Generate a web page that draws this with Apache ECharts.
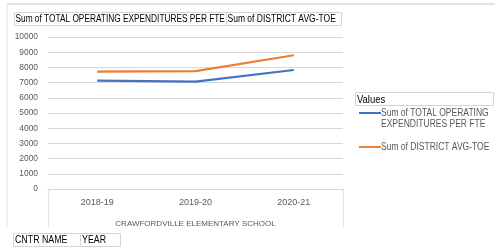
<!DOCTYPE html>
<html>
<head>
<meta charset="utf-8">
<script src="https://cdn.jsdelivr.net/npm/echarts@6/dist/echarts.min.js"></script>
<style>
  html, body { margin: 0; padding: 0; background: #fff; }
  #main { width: 497px; height: 252px; }
</style>
</head>
<body>
<div id="main"></div>
<script>
// data
const years = ['2018-19', '2019-20', '2020-21'];
const totalOpExp = [7130, 7070, 7830];
const districtAvg = [7720, 7760, 8800];
const seriesNames = ['Sum of TOTAL OPERATING EXPENDITURES PER FTE', 'Sum of DISTRICT AVG-TOE'];
const legendLines = [['Sum of TOTAL OPERATING', 'EXPENDITURES PER FTE'], ['Sum of DISTRICT AVG-TOE']];
const colors = ['#4472C4', '#ED7D31'];
const fieldButtons = ['CNTR NAME', 'YEAR'];

const font = 'Liberation Sans';
const border = '#d4d4d4';

// 窄字体（模仿 Calibri）
function label(text, x, y, size, sx, fill) {
  return {
    type: 'text', x: x, y: y, scaleX: sx,
    style: { text: text, font: size + 'px ' + font, fill: fill || '#000', verticalAlign: 'middle' },
  };
}

// 边框和按钮
const graphic = [
  { type: 'line', shape: { x1: 7, y1: 4, x2: 495, y2: 4 }, style: { stroke: '#e3e3e3', lineWidth: 2 } },
  { type: 'line', shape: { x1: 7, y1: 4, x2: 7, y2: 228 }, style: { stroke: '#e3e3e3', lineWidth: 1 } },
  // 顶部字段
  { type: 'rect', shape: { x: 14.5, y: 12.5, width: 212, height: 13 }, style: { fill: '#fff', stroke: border } },
  { type: 'rect', shape: { x: 226.5, y: 12.5, width: 115, height: 13 }, style: { fill: '#fff', stroke: border } },
  label(seriesNames[0], 15.5, 19.5, 10, 0.83),
  label(seriesNames[1], 227.5, 19.5, 10, 0.85),
  // x轴框
  { type: 'line', shape: { x1: 48.5, y1: 189, x2: 48.5, y2: 227 }, style: { stroke: '#e3e3e3', lineWidth: 1 } },
  { type: 'line', shape: { x1: 343.5, y1: 189, x2: 343.5, y2: 227 }, style: { stroke: '#e3e3e3', lineWidth: 1 } },
  // 底部字段
  { type: 'rect', shape: { x: 13.5, y: 233.5, width: 67, height: 13 }, style: { fill: '#fff', stroke: border } },
  { type: 'rect', shape: { x: 80.5, y: 233.5, width: 40, height: 13 }, style: { fill: '#fff', stroke: border } },
  label(fieldButtons[0], 15, 240.5, 10.5, 0.84),
  label(fieldButtons[1], 82, 240.5, 10.5, 0.84),
  // 图例
  { type: 'rect', shape: { x: 355.5, y: 92.5, width: 138, height: 13 }, style: { fill: '#fff', stroke: border } },
  label('Values', 357, 99.5, 11, 0.86),
];

const legendY = [113, 147];
legendLines.forEach((lines, i) => {
  graphic.push({ type: 'line', shape: { x1: 359, y1: legendY[i], x2: 381, y2: legendY[i] }, style: { stroke: colors[i], lineWidth: 2 } });
  lines.forEach((t, j) => {
    graphic.push(label(t, 381, legendY[i] + j * 11, 10, 0.85, '#595959'));
  });
});

const option = {
  animation: false,
  grid: { left: 48, right: 154, top: 37, bottom: 63 },
  xAxis: {
    type: 'category',
    data: years,
    boundaryGap: true,
    name: 'CRAWFORDVILLE ELEMENTARY SCHOOL',
    nameLocation: 'center',
    nameGap: 31,
    nameTextStyle: { color: '#595959', fontSize: 8, fontFamily: font },
    axisLine: { lineStyle: { color: '#d9d9d9' } },
    axisTick: { show: false },
    axisLabel: { color: '#595959', fontSize: 9, fontFamily: font, margin: 9 },
  },
  yAxis: {
    type: 'value',
    min: 0,
    max: 10000,
    interval: 1000,
    axisLine: { show: false },
    axisTick: { show: false },
    axisLabel: { color: '#595959', fontSize: 8.4, fontFamily: font, margin: 10, formatter: v => String(v) },
    splitLine: { lineStyle: { color: '#d9d9d9' } },
  },
  series: [
    { name: seriesNames[0], type: 'line', data: totalOpExp, symbol: 'none', lineStyle: { color: colors[0], width: 2.2 } },
    { name: seriesNames[1], type: 'line', data: districtAvg, symbol: 'none', lineStyle: { color: colors[1], width: 2.2 } },
  ],
  graphic: graphic,
};

const myChart = echarts.init(document.getElementById('main'));
myChart.setOption(option);
</script>
</body>
</html>
